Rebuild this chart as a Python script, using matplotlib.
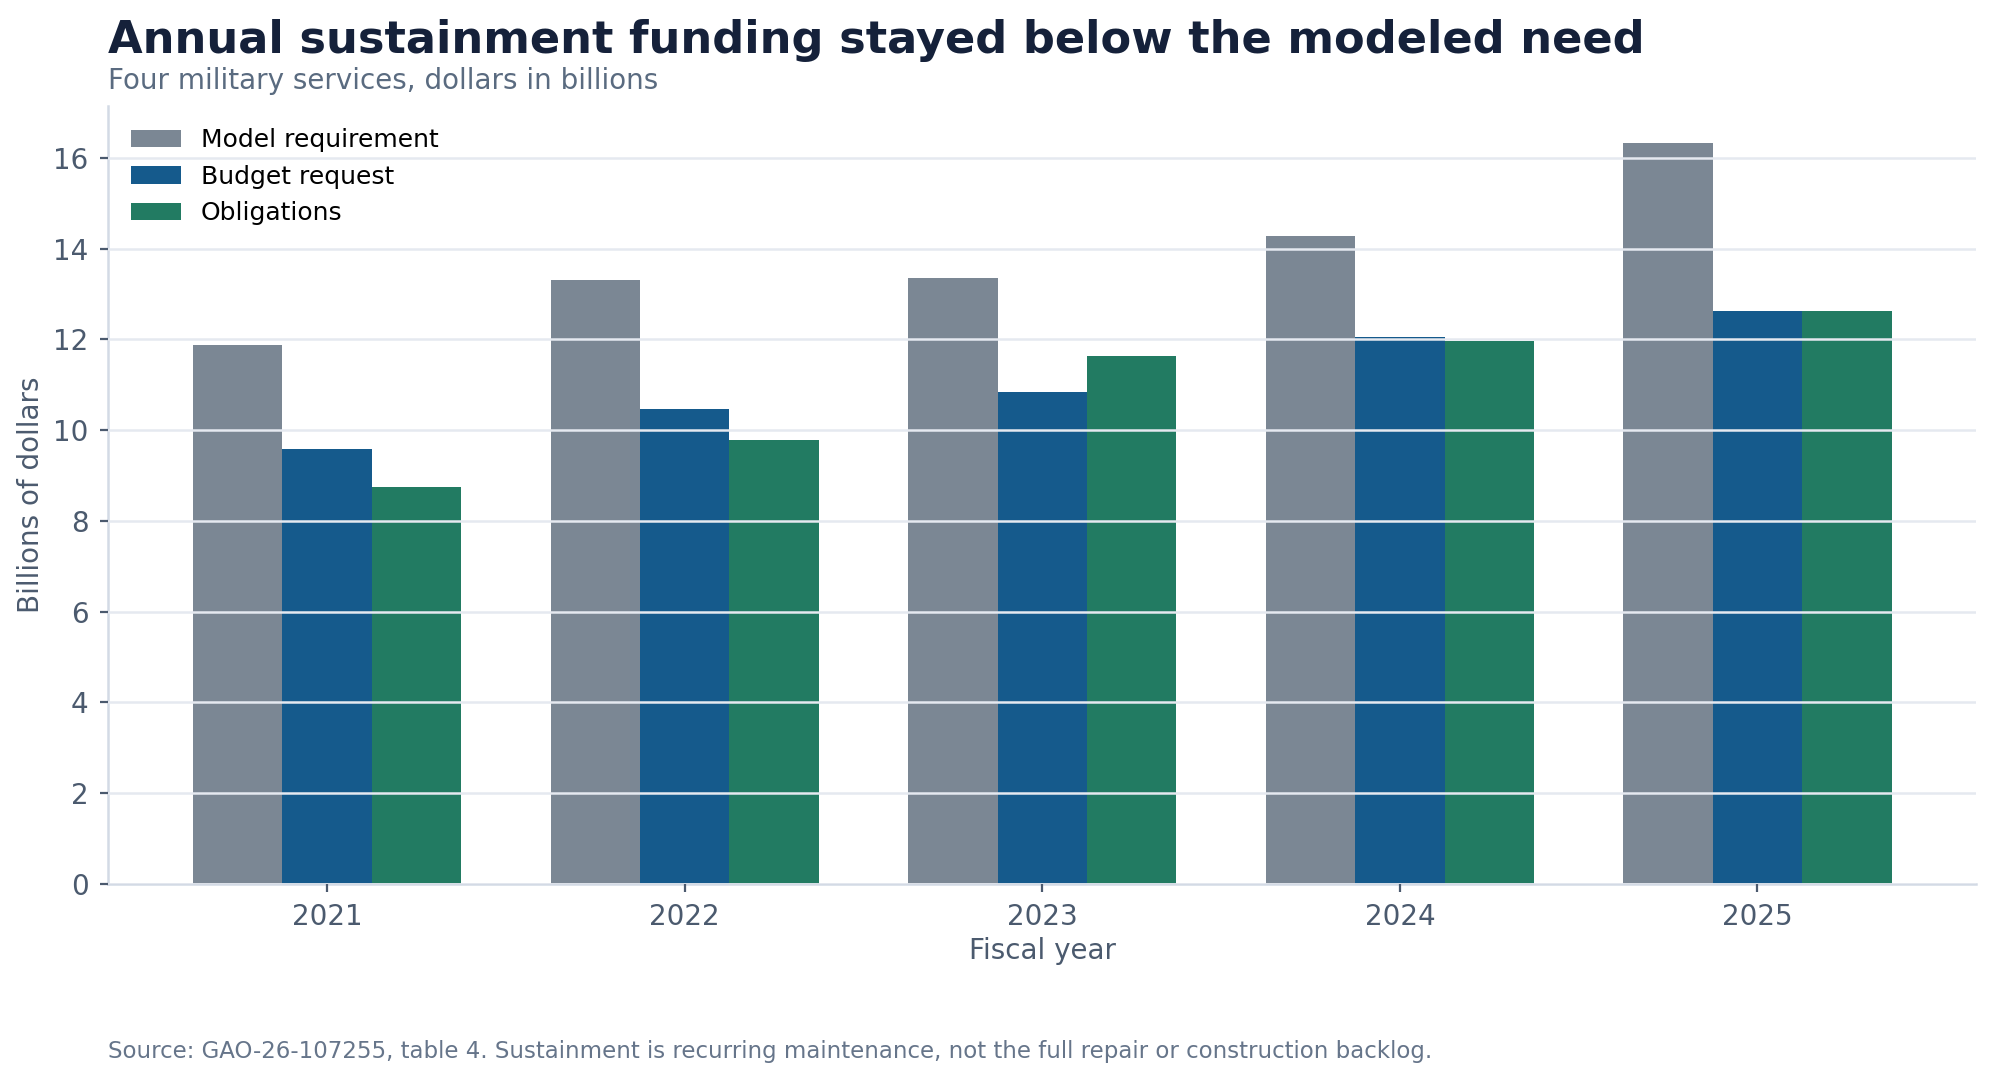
import matplotlib
matplotlib.use('Agg')
import matplotlib.pyplot as plt
import numpy as np

years = ['2021', '2022', '2023', '2024', '2025']
model_req = [11.87, 13.30, 13.36, 14.28, 16.33]
budget_req = [9.58, 10.46, 10.84, 12.05, 12.63]
obligations = [8.75, 9.78, 11.63, 11.97, 12.63]

series = [
    ('Model requirement', model_req, '#7b8794'),
    ('Budget request', budget_req, '#155a8c'),
    ('Obligations', obligations, '#227b62'),
]

plt.rcParams['font.family'] = ['DejaVu Sans']

fig = plt.figure(figsize=(9.97, 5.4), dpi=200)
ax = fig.add_axes([0.0542, 0.1816, 0.9370, 0.7203])

x = np.arange(len(years))
width = 0.25
for i, (name, vals, color) in enumerate(series):
    ax.bar(x + (i - 1) * width, vals, width, color=color, label=name, zorder=1)

# gridlines sit on top of the bars, as in the original
ax.set_axisbelow(False)
ax.grid(axis='y', color='#e5e9f0', linewidth=0.9, zorder=2)
ax.set_xticks(x)
ax.set_xticklabels(years)
ax.set_yticks(np.arange(0, 17, 2))

for side in ['top', 'right']:
    ax.spines[side].set_visible(False)
for side in ['left', 'bottom']:
    ax.spines[side].set_color('#d3dae5')
    ax.spines[side].set_linewidth(0.9)

ax.tick_params(axis='both', labelsize=10, labelcolor='#4b5a6e', color='#4b5a6e',
               length=3, width=0.8, pad=4)
ax.set_xlabel('Fiscal year', fontsize=10, color='#4b5a6e', labelpad=2)
ax.set_ylabel('Billions of dollars', fontsize=10, color='#4b5a6e', labelpad=3)

ax.legend(loc='upper left', frameon=False, fontsize=9)

fig.text(0.0542, 0.951, 'Annual sustainment funding stayed below the modeled need',
         fontsize=16.1, fontweight='bold', color='#15213a', va='baseline', ha='left')
fig.text(0.0542, 0.9176, 'Four military services, dollars in billions',
         fontsize=10, color='#5a6b80', va='baseline', ha='left')
fig.text(0.0542, 0.0207,
         'Source: GAO-26-107255, table 4. Sustainment is recurring maintenance, not the full repair or construction backlog.',
         fontsize=8.26, color='#66758a', va='baseline', ha='left')

fig.savefig('out.png', dpi=200)
